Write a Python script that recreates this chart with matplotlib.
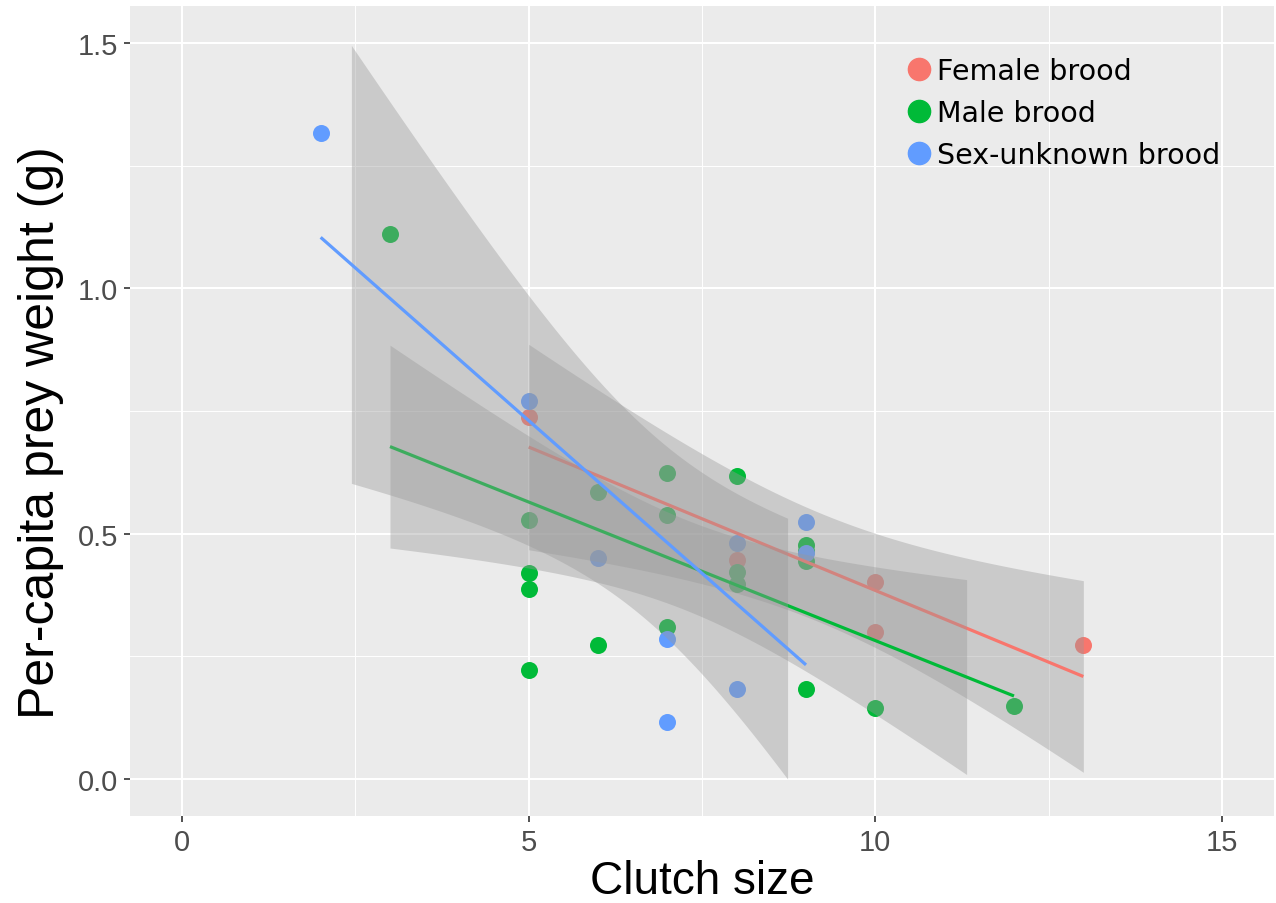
import numpy as np
import matplotlib.pyplot as plt
from matplotlib.lines import Line2D

# per-capita prey weight (g) against clutch size
female_x = [5, 8, 10, 10, 13]
female_y = [0.737, 0.446, 0.401, 0.299, 0.273]

male_x = [3, 5, 5, 5, 5, 6, 6, 7, 7, 7, 8, 8, 8, 9, 9, 9, 9, 10, 12]
male_y = [1.110, 0.527, 0.421, 0.387, 0.222, 0.585, 0.274, 0.624, 0.538, 0.310,
          0.617, 0.422, 0.397, 0.478, 0.465, 0.445, 0.184, 0.145, 0.149]

unknown_x = [2, 5, 6, 7, 7, 8, 8, 9, 9]
unknown_y = [1.316, 0.770, 0.450, 0.285, 0.116, 0.183, 0.481, 0.523, 0.460]

labels = ["Female brood", "Male brood", "Sex-unknown brood"]
colors = ["#F8766D", "#00BA38", "#619CFF"]

# 97.5% t quantiles for the residual degrees of freedom
t975 = {3: 3.182, 7: 2.365, 17: 2.110}

x_ticks = [0, 5, 10, 15]
y_ticks = [0.0, 0.5, 1.0, 1.5]
y_ticklabels = ["0.0", "0.5", "1.0", "1.5"]
ylim = (0.0, 1.5)


def lm_smooth(x, y):
    # same as geom_smooth(method="lm"): fit + 95% confidence band on 80 points
    x = np.asarray(x, float)
    y = np.asarray(y, float)
    slope, icpt = np.polyfit(x, y, 1)
    xs = np.linspace(x.min(), x.max(), 80)
    fit = icpt + slope * xs
    df = len(x) - 2
    s = np.sqrt(np.sum((y - (icpt + slope * x)) ** 2) / df)
    se = s * np.sqrt(1 / len(x) + (xs - x.mean()) ** 2 / np.sum((x - x.mean()) ** 2))
    return xs, fit, fit - t975[df] * se, fit + t975[df] * se


fig = plt.figure(figsize=(12.76, 9.04), dpi=100)
ax = fig.add_axes([130 / 1276, 87 / 904, 1144 / 1276, 810 / 904])
ax.set_facecolor("#EBEBEB")

data = [(female_x, female_y), (male_x, male_y), (unknown_x, unknown_y)]

for (x, y), c in zip(data, colors):
    ax.scatter(x, y, s=150, color=c, linewidths=0, zorder=2)

for (x, y), c in zip(data, colors):
    xs, fit, lo, hi = lm_smooth(x, y)
    # y limits drop the band where it leaves 0..1.5, like ggplot does
    keep = (lo >= ylim[0]) & (hi <= ylim[1])
    ax.fill_between(xs, lo, hi, where=keep, color="#999999", alpha=0.4,
                    linewidth=0, zorder=2)
    ax.plot(xs, fit, color=c, lw=2.3, zorder=2, solid_capstyle="butt")

ax.set_xlim(-0.75, 15.75)
ax.set_ylim(-0.075, 1.575)
ax.set_xticks(x_ticks)
ax.set_xticks([2.5, 7.5, 12.5], minor=True)
ax.set_yticks(y_ticks)
ax.set_yticklabels(y_ticklabels)
ax.set_yticks([0.25, 0.75, 1.25], minor=True)
ax.grid(which="major", color="white", lw=1.5)
ax.grid(which="minor", color="white", lw=0.7)
ax.set_axisbelow(True)
for sp in ax.spines.values():
    sp.set_visible(False)
ax.tick_params(which="major", length=4.5, width=1.2, color="#333333",
               labelsize=21, labelcolor="#4D4D4D", pad=4)
ax.tick_params(which="minor", length=0)
for lab in ax.get_xticklabels() + ax.get_yticklabels():
    lab.set_family("Liberation Sans")

ax.set_xlabel("Clutch size", fontsize=33, family="Liberation Sans")
ax.xaxis.set_label_coords(0.5, -0.053)
ax.set_ylabel("Per-capita prey weight (g)", fontsize=36, family="Liberation Sans")
ax.yaxis.set_label_coords(-0.058, 0.475)

handles = [Line2D([], [], marker="o", linestyle="", color=c, markersize=16)
           for c in colors]
ax.legend(handles, labels, loc="upper left", bbox_to_anchor=(0.667, 0.955),
          frameon=False, handlelength=0.8, handletextpad=0.25,
          labelspacing=0.5, borderpad=0,
          prop={"family": "DejaVu Sans", "size": 20.5})

fig.savefig("out.png", dpi=100, facecolor="white")
